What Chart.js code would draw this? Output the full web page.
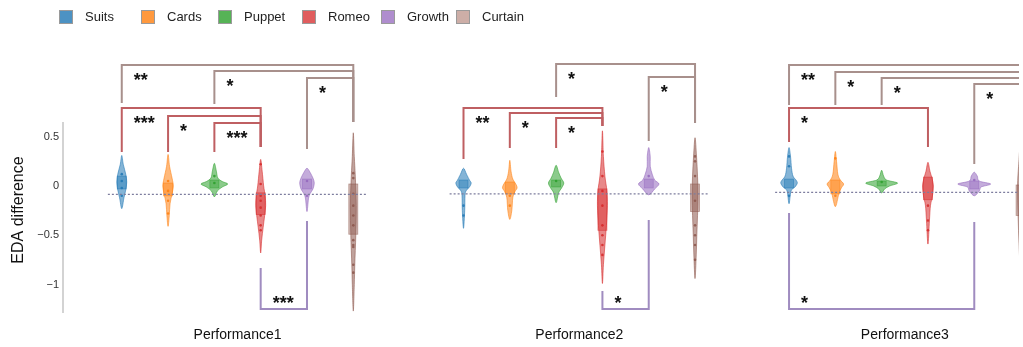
<!DOCTYPE html>
<html>
<head>
<meta charset="utf-8">
<script src="https://cdn.jsdelivr.net/npm/chart.js@4.4.1/dist/chart.umd.min.js"></script>
<style>
  html, body { margin: 0; padding: 0; background: #fff; }
  canvas { display: block; }
</style>
</head>
<body>
<canvas id="chart" width="1023" height="347"></canvas>
<script>
// ---- datos ----
const categories = ['Suits', 'Cards', 'Puppet', 'Romeo', 'Growth', 'Curtain'];
const performances = ['Performance1', 'Performance2', 'Performance3'];
const yTicks = [-1, -0.5, 0, 0.5];

// contorno de cada violin: [valor EDA, densidad] de arriba a abajo
const violinP1 = [
  [[0.31,0],[0.22,1.5],[0.12,4],[0.04,5],[-0.04,4],[-0.12,2.2],[-0.23,0]],
  [[0.32,0],[0.2,1.5],[0.08,4],[0.0,5.3],[-0.08,4],[-0.18,2],[-0.3,1.2],[-0.41,0]],
  [[0.23,0],[0.15,2],[0.08,3.5],[0.045,8],[0.02,13.5],[-0.01,8],[-0.05,3],[-0.11,0]],
  [[0.27,0],[0.15,1.5],[0.0,3],[-0.1,4.5],[-0.2,5],[-0.3,4],[-0.42,2.5],[-0.55,1],[-0.68,0]],
  [[0.18,0],[0.14,3],[0.08,6],[0.03,7.3],[-0.03,6],[-0.08,3],[-0.13,1.5],[-0.26,0]],
  [[0.54,0],[0.3,1],[0.1,2],[-0.2,3],[-0.5,2.5],[-0.8,1.5],[-1.0,1],[-1.27,0]]
];
const violinP2 = [
  [[0.18,0],[0.12,3],[0.06,6],[0.03,7.7],[-0.01,6],[-0.05,2.5],[-0.1,1.5],[-0.25,1.2],[-0.43,0]],
  [[0.26,0],[0.15,1.2],[0.07,3],[0.02,6],[-0.02,7.3],[-0.06,5],[-0.12,3],[-0.25,2],[-0.34,0]],
  [[0.21,0],[0.14,2.5],[0.08,5],[0.03,7.7],[-0.02,5.5],[-0.07,2.5],[-0.17,0]],
  [[0.56,0],[0.3,1],[0.1,2.5],[-0.05,4.5],[-0.2,5],[-0.4,4],[-0.6,2.5],[-0.8,1],[-0.99,0]],
  [[0.39,0],[0.3,1.5],[0.2,1.5],[0.12,3.5],[0.06,6],[0.02,10.3],[-0.03,6],[-0.09,0]],
  [[0.49,0],[0.3,1.5],[0.1,2.5],[-0.1,3],[-0.3,2.5],[-0.5,1.8],[-0.7,1.2],[-0.94,0]]
];
const violinP3 = [
  [[0.39,0],[0.3,1.5],[0.18,2.5],[0.1,4],[0.06,7],[0.03,8.3],[-0.01,6],[-0.05,2],[-0.18,0]],
  [[0.35,0],[0.25,1.2],[0.12,2.5],[0.06,5],[0.02,8.3],[-0.02,6],[-0.08,3.5],[-0.21,0]],
  [[0.16,0],[0.1,2],[0.06,5],[0.03,16],[0.0,8],[-0.03,3],[-0.07,0]],
  [[0.24,0],[0.15,2],[0.08,4],[0.0,5.5],[-0.1,4.5],[-0.2,2.5],[-0.35,1.5],[-0.59,0]],
  [[0.14,0],[0.1,3],[0.05,5],[0.02,16.5],[-0.01,7],[-0.05,5],[-0.1,0]],
  [[0.45,0],[0.2,2],[0.0,3],[-0.3,2.5],[-0.6,1.5],[-0.9,0]]
];

// cajas [q1, q3]
const boxP1 = [[-0.03,0.1],[-0.1,0.03],[-0.02,0.06],[-0.29,-0.07],[-0.03,0.07],[-0.49,0.02]];
const boxP2 = [[-0.02,0.06],[-0.08,0.04],[-0.01,0.06],[-0.45,-0.03],[-0.02,0.07],[-0.26,0.02]];
const boxP3 = [[-0.02,0.07],[-0.08,0.06],[0.0,0.05],[-0.14,0.09],[-0.03,0.05],[-0.3,0.01]];

// puntos visibles
const pointsP1 = [[0.12,0.05,-0.02,-0.1],[0.05,-0.05,-0.15,-0.28],[0.1,0.03],
  [0.22,0.02,-0.1,-0.15,-0.22,-0.3,-0.4,-0.45],[0.05,-0.1],
  [0.13,0.08,-0.08,-0.2,-0.3,-0.4,-0.55,-0.6,-0.62,-0.8,-0.88]];
const pointsP2 = [[-0.2,-0.3],[-0.1,-0.2],[0.05],
  [0.35,0.1,-0.05,-0.2,-0.4,-0.5,-0.6,-0.7],[0.1],
  [0.3,0.25,0.1,-0.15,-0.4,-0.5,-0.6,-0.75]];
const pointsP3 = [[0.3,0.2,-0.1],[0.28,-0.1],[0.04],[-0.2,-0.35,-0.45],[0.06],[]];

// linea punteada de referencia por performance
const baselines = [-0.085, -0.08, -0.065];

// significancia: [catA, catB, barra, finA, finB, etiqueta]
const bracketsP1 = [
  [0,5,1.228,0.843,0.65,'**'],
  [2,5,1.168,0.832,0.65,'*'],
  [4,5,1.096,0.376,0.65,'*'],
  [0,3,0.792,0.345,0.396,'***'],
  [1,3,0.711,0.345,0.396,'*'],
  [2,3,0.64,0.345,0.396,'***'],
  [3,4,-1.249,-0.832,-0.355,'***']
];
const bracketsP2 = [
  [2,5,1.239,0.904,0.64,'*'],
  [4,5,1.107,0.457,0.64,'*'],
  [0,3,0.792,0.274,0.609,'**'],
  [1,3,0.741,0.386,0.609,'*'],
  [2,3,0.69,0.386,0.609,'*'],
  [3,4,-1.249,-1.066,-0.345,'*']
];
const bracketsP3 = [
  [0,5,1.228,0.822,0.6,'**'],
  [1,5,1.157,0.822,0.6,'*'],
  [2,5,1.096,0.822,0.6,'*'],
  [4,5,1.036,0.223,0.6,'*'],
  [0,3,0.792,0.447,0.396,'*'],
  [0,4,-1.249,-0.274,-0.365,'*']
];

// ---- estilo / layout ----
const colores = ['#1f77b4', '#ff7f0e', '#2ca02c', '#d62728', '#9467bd', '#8c564b'];
const legendFill = ['rgba(31,119,180,0.8)', 'rgba(255,127,14,0.8)', 'rgba(44,160,44,0.8)',
  'rgba(214,39,40,0.75)', 'rgba(148,103,189,0.75)', 'rgba(196,160,152,0.85)'];
const bracketColor = { 3: '#bf5f62', 4: '#a08cc0', 5: '#a8908c' };
const legendX = [59, 141, 218, 302, 381, 456];
const GROUP_X = [0, 7.38, 14.41];
const DENS = 1 / 46.5;      // densidad -> unidades de x
const BOX_HW = 0.097;
const FONT = "'Liberation Sans', Arial, sans-serif";

const violins = [violinP1, violinP2, violinP3];
const boxes = [boxP1, boxP2, boxP3];
const points = [pointsP1, pointsP2, pointsP3];
const brackets = [bracketsP1, bracketsP2, bracketsP3];

const xOf = (g, c) => GROUP_X[g] + c;

function rgba(hex, a) {
  const n = parseInt(hex.slice(1), 16);
  return `rgba(${n >> 16},${(n >> 8) & 255},${n & 255},${a})`;
}

// datasets
const datasets = [];
baselines.forEach((b, g) => {
  datasets.push({
    data: [{ x: xOf(g, -0.3), y: b }, { x: xOf(g, 5.3), y: b }],
    showLine: true, borderColor: '#7d7d9e', borderWidth: 1.3, borderDash: [2, 2],
    pointRadius: 0
  });
});
brackets.forEach((lista, g) => {
  lista.forEach(([a, b, bar, ea, eb]) => {
    datasets.push({
      data: [{ x: xOf(g, a), y: ea }, { x: xOf(g, a), y: bar }, { x: xOf(g, b), y: bar }, { x: xOf(g, b), y: eb }],
      showLine: true, borderColor: bracketColor[b], borderWidth: 2, pointRadius: 0,
      borderJoinStyle: 'miter', tension: 0
    });
  });
});
points.forEach((grupo, g) => {
  grupo.forEach((vals, c) => {
    datasets.push({
      data: vals.map(v => ({ x: xOf(g, c), y: v })),
      pointRadius: 1.3, pointBorderWidth: 0,
      pointBackgroundColor: rgba(colores[c], 0.85)
    });
  });
});

function curvaCerrada(ctx, pts, k) {
  const n = pts.length;
  ctx.moveTo(pts[0][0], pts[0][1]);
  for (let i = 0; i < n; i++) {
    const p0 = pts[(i - 1 + n) % n], p1 = pts[i], p2 = pts[(i + 1) % n], p3 = pts[(i + 2) % n];
    ctx.bezierCurveTo(
      p1[0] + (p2[0] - p0[0]) * k, p1[1] + (p2[1] - p0[1]) * k,
      p2[0] - (p3[0] - p1[0]) * k, p2[1] - (p3[1] - p1[1]) * k,
      p2[0], p2[1]);
  }
  ctx.closePath();
}

const violinPlugin = {
  id: 'violines',
  beforeDatasetsDraw(chart) {
    const { ctx, chartArea, scales: { x, y } } = chart;
    ctx.save();
    ctx.beginPath();
    ctx.rect(chartArea.left, chartArea.top, chartArea.right - chartArea.left, chartArea.bottom - chartArea.top);
    ctx.clip();
    violins.forEach((grupo, g) => {
      grupo.forEach((perfil, c) => {
        const cx = xOf(g, c);
        const der = perfil.map(([v, d]) => [x.getPixelForValue(cx + d * DENS), y.getPixelForValue(v)]);
        const izq = perfil.slice(1, -1).reverse().map(([v, d]) => [x.getPixelForValue(cx - d * DENS), y.getPixelForValue(v)]);
        ctx.beginPath();
        curvaCerrada(ctx, der.concat(izq), 0.16);
        ctx.fillStyle = rgba(colores[c], 0.55);
        ctx.fill();
        ctx.strokeStyle = rgba(colores[c], 0.7);
        ctx.lineWidth = 0.8;
        ctx.stroke();

        const [q1, q3] = boxes[g][c];
        const x0 = x.getPixelForValue(cx - BOX_HW), x1 = x.getPixelForValue(cx + BOX_HW);
        const y0 = y.getPixelForValue(q3), y1 = y.getPixelForValue(q1);
        ctx.fillStyle = rgba(colores[c], 0.4);
        ctx.fillRect(x0, y0, x1 - x0, y1 - y0);
        ctx.strokeStyle = rgba(colores[c], 0.55);
        ctx.strokeRect(x0, y0, x1 - x0, y1 - y0);
      });
    });
    ctx.restore();
  },
  afterDatasetsDraw(chart) {
    const { ctx, scales: { x, y } } = chart;
    ctx.save();
    ctx.fillStyle = '#111';
    ctx.font = 'bold 18px ' + FONT;
    ctx.textAlign = 'left';
    ctx.textBaseline = 'alphabetic';
    brackets.forEach((lista, g) => {
      lista.forEach(([a, b, bar, ea, eb, txt]) => {
        const px = x.getPixelForValue(xOf(g, a)) + 12;
        const py = y.getPixelForValue(bar) + (bar > 0 ? 11 : -10);
        ctx.fillText(txt, px, py + 10);
      });
    });
    ctx.restore();
  },
  afterDraw(chart) {
    const { ctx, chartArea, scales: { y } } = chart;
    ctx.save();
    // eje y
    ctx.strokeStyle = '#c4c4c4';
    ctx.lineWidth = 1.5;
    ctx.beginPath();
    ctx.moveTo(chartArea.left, y.getPixelForValue(0.65));
    ctx.lineTo(chartArea.left, y.getPixelForValue(-1.29));
    ctx.stroke();
    // titulo eje y
    ctx.translate(19, 210);
    ctx.rotate(-Math.PI / 2);
    ctx.font = '16px ' + FONT;
    ctx.fillStyle = '#111';
    ctx.textAlign = 'center';
    ctx.textBaseline = 'middle';
    ctx.fillText('EDA difference', 0, 0);
    ctx.restore();
    // leyenda
    ctx.save();
    ctx.font = '13px ' + FONT;
    ctx.textBaseline = 'middle';
    ctx.textAlign = 'left';
    categories.forEach((nombre, i) => {
      ctx.fillStyle = legendFill[i];
      ctx.fillRect(legendX[i], 10, 14, 14);
      ctx.strokeStyle = '#9a9a9a';
      ctx.lineWidth = 1;
      ctx.strokeRect(legendX[i] + 0.5, 10.5, 13, 13);
      ctx.fillStyle = '#222';
      ctx.fillText(nombre, legendX[i] + 26, 17);
    });
    ctx.restore();
  }
};

new Chart(document.getElementById('chart'), {
  type: 'scatter',
  data: { datasets },
  options: {
    responsive: false,
    animation: false,
    layout: { padding: { top: 40, left: 0, right: 0, bottom: 0 } },
    plugins: { legend: { display: false }, tooltip: { enabled: false } },
    scales: {
      x: {
        type: 'linear', min: -1.269, max: 19.376,
        grid: { display: false, drawTicks: false },
        border: { display: false },
        afterFit: (s) => { s.height = 25; },
        afterBuildTicks: (s) => { s.ticks = GROUP_X.map(g => ({ value: g + 2.5 })); },
        ticks: {
          padding: 5, color: '#111', font: { size: 14, family: FONT },
          callback: (v, i) => performances[i]
        }
      },
      y: {
        type: 'linear', min: -1.381, max: 1.482,
        grid: { display: false, drawTicks: false },
        border: { display: false },
        afterFit: (s) => { s.width = 63; },
        afterBuildTicks: (s) => { s.ticks = yTicks.map(v => ({ value: v })); },
        ticks: {
          padding: 4, color: '#333', font: { size: 11, family: FONT },
          callback: (v) => v < 0 ? '\u2212' + Math.abs(v) : String(v)
        }
      }
    }
  },
  plugins: [violinPlugin]
});
</script>
</body>
</html>
